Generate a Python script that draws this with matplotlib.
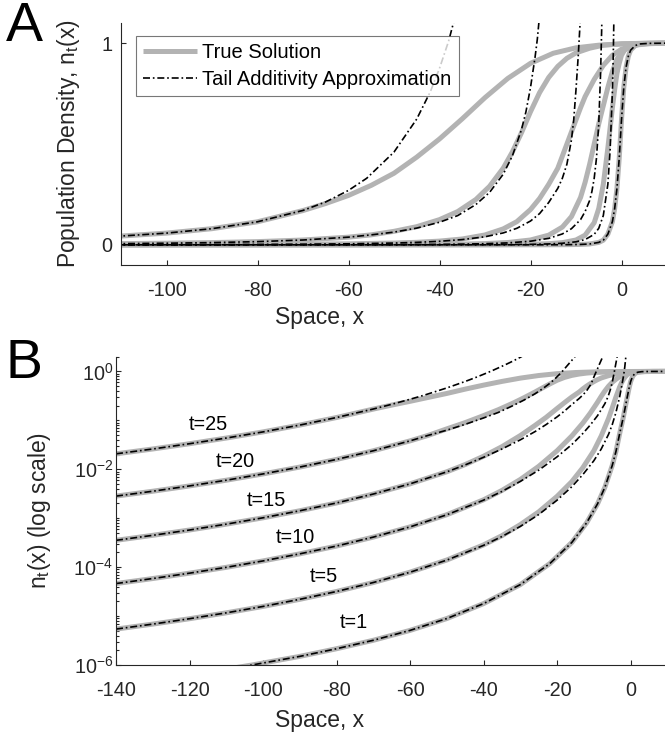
import numpy as np
import matplotlib.pyplot as plt
from matplotlib.ticker import LogLocator, NullFormatter

plt.rcParams['font.family'] = ['Liberation Sans', 'DejaVu Sans']
plt.rcParams['mathtext.default'] = 'regular'
plt.rcParams['mathtext.fontset'] = 'custom'
plt.rcParams['mathtext.rm'] = 'Liberation Sans'
plt.rcParams['mathtext.it'] = 'Liberation Sans:italic'
plt.rcParams['axes.unicode_minus'] = False

# --- values ---
times = [1, 5, 10, 15, 20, 25]

# true solution
x_true_t1 = [-110, -103, -90, -80, -70, -60, -50, -40, -30, -22, -16, -12, -9, -7, -5, -4, -3,
             -2, -1.5, -1, -0.5, 0, 0.5, 1, 1.5, 2, 3, 4, 6, 10]
n_true_t1 = [8.2e-7, 1.0e-6, 1.5e-6, 2.15e-6, 3.2e-6, 5.1e-6, 8.9e-6, 1.8e-5, 4.4e-5, 1.18e-4,
             3.2e-4, 8.0e-4, 1.97e-3, 4.3e-3, 1.2e-2, 2.3e-2, 5.3e-2, 0.115, 0.18, 0.28, 0.43, 0.62,
             0.78, 0.88, 0.935, 0.965, 0.988, 0.996, 0.999, 1.0]

x_true_t5 = [-140, -130, -120, -110, -100, -90, -80, -70, -60, -50, -40, -35, -30, -25, -20, -16,
             -13, -10, -8, -6, -5, -4, -3, -2.5, -2, -1.5, -1, -0.5, 0, 1, 2, 4, 10]
n_true_t5 = [5.42e-6, 6.85e-6, 8.83e-6, 1.164e-5, 1.574e-5, 2.2e-5, 3.18e-5, 4.85e-5, 7.9e-5,
             1.4e-4, 2.85e-4, 4.4e-4, 7.4e-4, 1.35e-3, 2.8e-3, 5.6e-3, 1.08e-2, 2.4e-2, 4.8e-2,
             0.11, 0.18, 0.30, 0.48, 0.58, 0.68, 0.77, 0.85, 0.9, 0.94, 0.978, 0.992, 0.998, 1.0]

x_true_t10 = [-140, -130, -120, -110, -100, -90, -80, -70, -60, -50, -40, -35, -30, -25, -20, -16,
              -13, -11, -9, -8, -7, -6, -5, -4, -3, -2, -1, 0, 2, 4, 10]
n_true_t10 = [4.62e-5, 5.85e-5, 7.53e-5, 9.91e-5, 1.34e-4, 1.87e-4, 2.70e-4, 4.11e-4, 6.65e-4,
              1.18e-3, 2.38e-3, 3.7e-3, 6.2e-3, 1.15e-2, 2.4e-2, 4.8e-2, 8.8e-2, 0.14, 0.235, 0.31,
              0.40, 0.50, 0.60, 0.69, 0.78, 0.86, 0.92, 0.955, 0.987, 0.996, 1.0]

x_true_t15 = [-140, -130, -120, -110, -100, -90, -80, -70, -60, -50, -45, -40, -35, -30, -26, -23,
              -20, -18, -16, -14, -13, -12, -11, -10, -9, -8, -6, -4, -2, 0, 3, 6, 10]
n_true_t15 = [3.53e-4, 4.47e-4, 5.74e-4, 7.56e-4, 1.02e-3, 1.42e-3, 2.05e-3, 3.12e-3, 5.04e-3,
              8.9e-3, 1.25e-2, 1.85e-2, 2.9e-2, 4.9e-2, 7.9e-2, 0.115, 0.175, 0.23, 0.30, 0.38,
              0.44, 0.50, 0.56, 0.62, 0.68, 0.735, 0.82, 0.89, 0.94, 0.97, 0.99, 0.998, 1.0]

x_true_t20 = [-140, -130, -120, -110, -100, -90, -80, -70, -60, -55, -50, -45, -40, -36, -32, -29,
              -26, -24, -22, -20, -18, -16, -14, -12, -10, -7, -4, 0, 5, 10]
n_true_t20 = [2.83e-3, 3.56e-3, 4.57e-3, 5.98e-3, 8.04e-3, 1.11e-2, 1.59e-2, 2.39e-2, 3.81e-2,
              4.95e-2, 6.7e-2, 9.0e-2, 0.125, 0.165, 0.225, 0.29, 0.38, 0.46, 0.555, 0.66, 0.755,
              0.83, 0.885, 0.925, 0.952, 0.975, 0.99, 0.997, 0.9995, 1.0]

x_true_t25 = [-140, -130, -120, -110, -100, -90, -80, -70, -65, -60, -55, -50, -45, -40, -35, -30,
              -25, -20, -15, -10, -5, 0, 5, 10]
n_true_t25 = [0.0207, 0.026, 0.0333, 0.0435, 0.0581, 0.0801, 0.1143, 0.17, 0.205, 0.245, 0.295,
              0.355, 0.435, 0.525, 0.625, 0.73, 0.825, 0.9, 0.95, 0.977, 0.99, 0.996, 0.999, 1.0]

# tail additivity approximation
x_tail_t1 = [-110, -103, -90, -80, -70, -60, -50, -40, -30, -22, -16, -12, -9, -7, -5, -4, -3,
             -2, -1.5, -1, -0.5, 0, 0.5, 1, 1.5, 2, 3, 4, 6, 10]
n_tail_t1 = [8.2e-7, 1.0e-6, 1.5e-6, 2.15e-6, 3.2e-6, 5.1e-6, 8.9e-6, 1.8e-5, 4.4e-5, 1.18e-4,
             3.2e-4, 8.0e-4, 1.97e-3, 4.3e-3, 1.2e-2, 2.3e-2, 5.3e-2, 0.115, 0.18, 0.28, 0.43, 0.62,
             0.78, 0.88, 0.935, 0.965, 0.988, 0.996, 0.999, 1.0]

x_tail_t5 = [-140, -130, -120, -110, -100, -90, -80, -70, -60, -50, -40, -35, -30, -25, -20, -16,
             -13, -10, -8, -6, -5, -4, -3, -2.5, -2, -1.8, -1.6, -1.4, -1.2]
n_tail_t5 = [5.42e-6, 6.85e-6, 8.83e-6, 1.164e-5, 1.574e-5, 2.2e-5, 3.18e-5, 4.85e-5, 7.87e-5,
             1.393e-4, 2.79e-4, 4.23e-4, 6.81e-4, 1.189e-3, 2.34e-3, 4.4e-3, 7.8e-3, 1.5e-2, 2.6e-2,
             5.2e-2, 8.2e-2, 0.145, 0.30, 0.47, 0.76, 0.95, 1.22, 1.7, 2.4]

x_tail_t10 = [-140, -130, -120, -110, -100, -90, -80, -70, -60, -50, -40, -35, -30, -25, -20, -16,
              -13, -11, -9, -8, -7, -6.5, -6, -5.5, -5, -4.6, -4.3, -4, -3.7, -3.4]
n_tail_t10 = [4.62e-5, 5.85e-5, 7.53e-5, 9.91e-5, 1.34e-4, 1.87e-4, 2.70e-4, 4.11e-4, 6.65e-4,
              1.175e-3, 2.34e-3, 3.53e-3, 5.66e-3, 9.6e-3, 1.8e-2, 3.2e-2, 5.4e-2, 8.0e-2, 0.125,
              0.165, 0.22, 0.265, 0.33, 0.43, 0.6, 0.85, 1.12, 1.48, 1.95, 2.55]

x_tail_t15 = [-140, -130, -120, -110, -100, -90, -80, -70, -60, -50, -45, -40, -35, -30, -26, -23,
              -20, -18, -16, -14, -13, -12, -11, -10.5, -10, -9.5, -9, -8.5, -8, -7.5, -7]
n_tail_t15 = [3.53e-4, 4.47e-4, 5.74e-4, 7.56e-4, 1.02e-3, 1.42e-3, 2.05e-3, 3.12e-3, 5.04e-3,
              8.87e-3, 1.23e-2, 1.76e-2, 2.6e-2, 4.0e-2, 5.9e-2, 8.2e-2, 0.118, 0.155, 0.21, 0.28,
              0.33, 0.40, 0.52, 0.62, 0.77, 0.94, 1.14, 1.4, 1.7, 2.08, 2.55]

x_tail_t20 = [-140, -130, -120, -110, -100, -90, -80, -70, -60, -55, -50, -45, -40, -36, -32, -29,
              -26, -24, -22, -21, -20, -19, -18.5, -17, -15.5, -14]
n_tail_t20 = [2.83e-3, 3.56e-3, 4.57e-3, 5.98e-3, 8.04e-3, 1.11e-2, 1.59e-2, 2.39e-2, 3.81e-2,
              4.95e-2, 6.3e-2, 8.3e-2, 0.112, 0.145, 0.2, 0.26, 0.35, 0.44, 0.57, 0.66, 0.78, 0.93,
              1.02, 1.38, 1.86, 2.57]

x_tail_t25 = [-140, -130, -120, -110, -100, -90, -80, -70, -65, -60, -56, -50, -45, -42, -40, -38,
              -36, -34, -32, -30, -28]
n_tail_t25 = [0.0207, 0.026, 0.0333, 0.0435, 0.0581, 0.0801, 0.1143, 0.1706, 0.2128, 0.270, 0.330,
              0.46, 0.624, 0.76, 0.875, 1.01, 1.18, 1.38, 1.63, 1.95, 2.36]

true_x = [x_true_t1, x_true_t5, x_true_t10, x_true_t15, x_true_t20, x_true_t25]
true_n = [n_true_t1, n_true_t5, n_true_t10, n_true_t15, n_true_t20, n_true_t25]
tail_x = [x_tail_t1, x_tail_t5, x_tail_t10, x_tail_t15, x_tail_t20, x_tail_t25]
tail_n = [n_tail_t1, n_tail_t5, n_tail_t10, n_tail_t15, n_tail_t20, n_tail_t25]

# where the "t=" labels sit in panel B
label_x = [-75.2, -83.4, -91.3, -99.2, -107.6, -114.9]
label_y = [10**-5.13, 10**-4.19, 10**-3.39, 10**-2.63, 10**-1.835, 10**-1.087]

gray = '#b3b3b3'
axcol = '#262626'
lw_true = 3.6
lw_tail = 1.2
dashdot = (0, (4.2, 1.7, 1.0, 1.7))
fs_tick = 14.3
fs_lab = 16.5

W, H = 665, 740
fig = plt.figure(figsize=(W / 100, H / 100), dpi=100)


def style(ax, ypad):
    for s in ['top', 'right']:
        ax.spines[s].set_visible(False)
    for s in ['left', 'bottom']:
        ax.spines[s].set_color(axcol)
        ax.spines[s].set_linewidth(0.8)
    ax.tick_params(which='both', direction='in', colors=axcol, labelcolor=axcol,
                   labelsize=fs_tick, width=0.8)
    ax.tick_params(which='major', length=3.3)
    ax.tick_params(which='minor', length=1.8)
    ax.tick_params(axis='x', pad=11.5)
    ax.tick_params(axis='y', pad=ypad)


# panel A
axA = fig.add_axes([121 / W, 1 - 265 / H, 546 / W, 242 / H])
for i in range(len(times)):
    axA.plot(true_x[i], true_n[i], color=gray, lw=lw_true, solid_capstyle='butt',
             label='True Solution' if i == 0 else None)
for i in range(len(times)):
    axA.plot(tail_x[i], tail_n[i], color='black', lw=lw_tail, linestyle=dashdot,
             label='Tail Additivity Approximation' if i == 0 else None)
axA.set_xlim(-110, 10)
axA.set_ylim(-0.1, 1.1)
axA.set_xticks([-100, -80, -60, -40, -20, 0])
axA.set_yticks([0, 1])
style(axA, 6)
axA.set_xlabel('Space, x', fontsize=fs_lab, color=axcol)
axA.set_ylabel('Population Density, n$_t$(x)', fontsize=fs_lab, color=axcol)
axA.xaxis.set_label_coords((320 - 121) / 546, -(306 - 265) / 242)
axA.yaxis.set_label_coords((82 - 121) / 546, 0.5)
leg = axA.legend(loc='upper left', bbox_to_anchor=((136 - 121) / 546, (265 - 36) / 242),
                 borderaxespad=0, fontsize=14.5, frameon=True, fancybox=False,
                 handlelength=2.7, handletextpad=0.25, borderpad=0.35, labelspacing=0.4)
leg.get_frame().set_edgecolor('#555555')
leg.get_frame().set_linewidth(0.8)

# panel B
axB = fig.add_axes([116 / W, 1 - 665 / H, 551.4 / W, 308.3 / H])
for i in range(len(times)):
    axB.plot(true_x[i], true_n[i], color=gray, lw=lw_true, solid_capstyle='butt')
for i in range(len(times)):
    axB.plot(tail_x[i], tail_n[i], color='black', lw=lw_tail, linestyle=dashdot)
axB.set_yscale('log')
axB.set_xlim(-140, 10)
axB.set_ylim(1e-6, 2)
axB.set_xticks([-140, -120, -100, -80, -60, -40, -20, 0])
axB.set_yticks([1e-6, 1e-4, 1e-2, 1])
axB.yaxis.set_minor_locator(LogLocator(base=10, subs=np.arange(1, 10), numticks=60))
axB.yaxis.set_minor_formatter(NullFormatter())
style(axB, 2)
for t, lx, ly in zip(times, label_x, label_y):
    axB.text(lx, ly, 't=%d' % t, fontsize=14.3, ha='center', va='center', color='black')
axB.set_xlabel('Space, x', fontsize=fs_lab, color=axcol)
axB.set_ylabel('n$_t$(x) (log scale)', fontsize=fs_lab, color=axcol)
axB.xaxis.set_label_coords((320 - 116) / 551.4, -(709 - 665) / 308.3)
axB.yaxis.set_label_coords((53 - 116) / 551.4, 0.5)

fig.text(6 / W, 1 - 41 / H, 'A', fontsize=40, va='baseline', ha='left')
fig.text(6 / W, 1 - 378 / H, 'B', fontsize=40, va='baseline', ha='left')

fig.savefig('out.png', dpi=100)
